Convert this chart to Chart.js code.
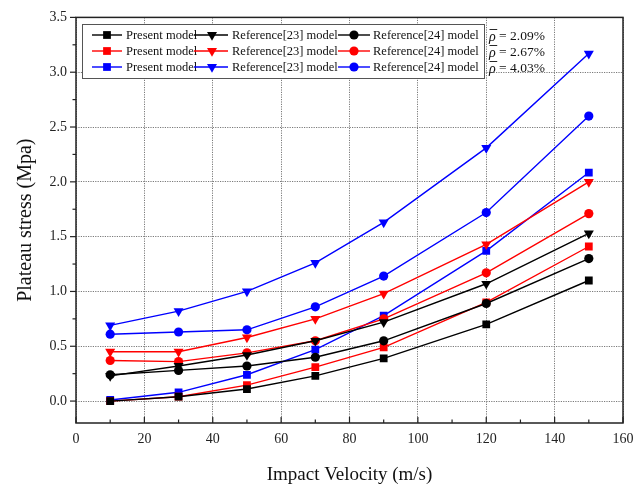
<!DOCTYPE html>
<html>
<head>
<meta charset="utf-8">
<script src="https://cdn.jsdelivr.net/npm/chart.js@4/dist/chart.umd.min.js"></script>
<style>
  html, body { margin: 0; padding: 0; background: #fff; }
  #wrap { width: 644px; height: 486px; }
</style>
</head>
<body>
<div id="wrap"><canvas id="plateauChart" width="644" height="486"></canvas></div>
<script>
// ---------------------------------------------------------
// DATA
// ---------------------------------------------------------
const velocities = [10, 30, 50, 70, 90, 120, 150];

// relative density 2.09%
const present209 = [0.00, 0.04, 0.11, 0.23, 0.39, 0.70, 1.10];
const ref23_209  = [0.23, 0.32, 0.42, 0.55, 0.72, 1.07, 1.53];
const ref24_209  = [0.24, 0.28, 0.32, 0.40, 0.55, 0.89, 1.30];

// relative density 2.67%
const present267 = [0.00, 0.04, 0.145, 0.31, 0.49, 0.90, 1.41];
const ref23_267  = [0.45, 0.45, 0.58, 0.75, 0.98, 1.43, 2.00];
const ref24_267  = [0.37, 0.36, 0.44, 0.55, 0.75, 1.17, 1.71];

// relative density 4.03%
const present403 = [0.01, 0.08, 0.24, 0.47, 0.78, 1.37, 2.085];
const ref23_403  = [0.69, 0.82, 1.00, 1.26, 1.63, 2.31, 3.17];
const ref24_403  = [0.61, 0.63, 0.65, 0.86, 1.14, 1.72, 2.60];

const densityLabels = ['2.09%', '2.67%', '4.03%'];
const modelNames = ['Present model', 'Reference[23] model', 'Reference[24] model'];

const xTicks = [0, 20, 40, 60, 80, 100, 120, 140, 160];
const yTicks = [0.0, 0.5, 1.0, 1.5, 2.0, 2.5, 3.0, 3.5];

const FONT = '"Liberation Serif", "Times New Roman", serif';

// ---------------------------------------------------------
// BUILD DATASETS
// ---------------------------------------------------------
const groups = [
    { color: '#000000', series: [present209, ref23_209, ref24_209] },
    { color: '#ff0000', series: [present267, ref23_267, ref24_267] },
    { color: '#0000ff', series: [present403, ref23_403, ref24_403] }
];
const styles = [
    { pointStyle: 'rect', radius: 5.5, rotation: 0 },
    { pointStyle: 'triangle', radius: 5.8, rotation: 180 },
    { pointStyle: 'circle', radius: 4.6, rotation: 0 }
];

const datasets = [];
groups.forEach(g => {
    g.series.forEach((vals, i) => {
        datasets.push({
            label: modelNames[i],
            data: vals.map((v, k) => ({ x: velocities[k], y: v })),
            borderColor: g.color,
            backgroundColor: g.color,
            borderWidth: 1.4,
            pointStyle: styles[i].pointStyle,
            pointRadius: styles[i].radius,
            pointRotation: styles[i].rotation,
            pointBorderWidth: 0,
            tension: 0
        });
    });
});

// ---------------------------------------------------------
// PLUGIN: frame, minor/major ticks, custom 3x3 legend
// ---------------------------------------------------------
const framePlugin = {
    id: 'frame',
    afterDatasetsDraw(chart) {
        const { ctx, chartArea: a, scales } = chart;
        ctx.save();
        ctx.strokeStyle = '#222';
        ctx.lineWidth = 1.5;
        ctx.strokeRect(a.left, a.top, a.right - a.left, a.bottom - a.top);

        ctx.lineWidth = 1.2;
        // x ticks point inward
        for (let v = 0; v <= 160; v += 10) {
            const px = scales.x.getPixelForValue(v);
            const len = v % 20 === 0 ? 6 : 3.5;
            ctx.beginPath();
            ctx.moveTo(px, a.bottom);
            ctx.lineTo(px, a.bottom - len);
            ctx.stroke();
        }
        // y ticks point outward
        for (let v = 0; v <= 3.5001; v += 0.25) {
            const py = scales.y.getPixelForValue(v);
            const major = Math.abs(v * 2 - Math.round(v * 2)) < 1e-6;
            const len = major ? 6 : 3.5;
            ctx.beginPath();
            ctx.moveTo(a.left, py);
            ctx.lineTo(a.left - len, py);
            ctx.stroke();
        }
        ctx.restore();
    },
    afterDraw(chart) {
        const { ctx } = chart;
        const ds = chart.data.datasets;
        ctx.save();

        // legend box
        const bx = 82, by = 24, bw = 402, bh = 54;
        ctx.fillStyle = '#fff';
        ctx.fillRect(bx, by, bw, bh);
        ctx.strokeStyle = '#555';
        ctx.lineWidth = 1;
        ctx.strokeRect(bx + 0.5, by + 0.5, bw, bh);

        const rowY = [35, 51, 67];
        const cols = [
            { l0: 92, l1: 122, m: 107, t: 126 },
            { l0: 194, l1: 228, m: 212, t: 232 },
            { l0: 338, l1: 370, m: 354, t: 373 }
        ];
        ctx.textBaseline = 'middle';
        for (let r = 0; r < 3; r++) {
            for (let c = 0; c < 3; c++) {
                const d = ds[r * 3 + c];
                const col = cols[c];
                const y = rowY[r];
                ctx.strokeStyle = d.borderColor;
                ctx.lineWidth = 1.4;
                ctx.beginPath();
                ctx.moveTo(col.l0, y);
                ctx.lineTo(col.l1, y);
                ctx.stroke();
                ctx.fillStyle = d.backgroundColor;
                Chart.helpers.drawPoint(ctx, {
                    pointStyle: d.pointStyle,
                    radius: d.pointRadius,
                    rotation: d.pointRotation,
                    borderWidth: 0
                }, col.m, y);
                ctx.fillStyle = '#111';
                ctx.font = '12.5px ' + FONT;
                ctx.fillText(d.label, col.t, y + 1);
            }
            // density label, rho with an overbar
            const x0 = 489;
            ctx.fillStyle = '#111';
            ctx.font = 'italic 14px ' + FONT;
            ctx.fillText('ρ', x0, rowY[r] + 2);
            const rw = ctx.measureText('ρ').width;
            ctx.strokeStyle = '#111';
            ctx.lineWidth = 0.9;
            ctx.beginPath();
            ctx.moveTo(x0 + 0.5, rowY[r] - 5.5);
            ctx.lineTo(x0 + rw + 1.5, rowY[r] - 5.5);
            ctx.stroke();
            ctx.font = '13.5px ' + FONT;
            ctx.fillText(' = ' + densityLabels[r], x0 + rw, rowY[r] + 1);
        }
        ctx.restore();
    }
};

// ---------------------------------------------------------
// CREATE CHART
// ---------------------------------------------------------
const gridDotted = {
    color: '#7a7a7a',
    lineWidth: 1,
    drawTicks: false
};
const borderDotted = { display: false, dash: [1.2, 1.2] };

new Chart(document.getElementById('plateauChart'), {
    type: 'line',
    data: { datasets: datasets },
    options: {
        responsive: false,
        animation: false,
        layout: { padding: { left: 0, right: 21, top: 17, bottom: 0 } },
        plugins: {
            legend: { display: false },
            tooltip: { enabled: false }
        },
        scales: {
            x: {
                type: 'linear',
                min: 0,
                max: 160,
                afterBuildTicks: s => { s.ticks = xTicks.map(v => ({ value: v })); },
                afterFit: s => { s.height = 63; },
                border: borderDotted,
                grid: gridDotted,
                ticks: {
                    padding: 8,
                    color: '#222',
                    font: { family: FONT, size: 14 },
                    maxRotation: 0
                },
                title: {
                    display: true,
                    text: 'Impact Velocity (m/s)',
                    color: '#111',
                    font: { family: FONT, size: 19 },
                    padding: { top: 4, bottom: 0 }
                }
            },
            y: {
                type: 'linear',
                min: -0.2,
                max: 3.5,
                afterBuildTicks: s => { s.ticks = yTicks.map(v => ({ value: v })); },
                afterFit: s => { s.width = 76; },
                border: borderDotted,
                grid: gridDotted,
                ticks: {
                    padding: 9,
                    color: '#222',
                    font: { family: FONT, size: 14 },
                    callback: v => v.toFixed(1)
                },
                title: {
                    display: true,
                    text: 'Plateau stress (Mpa)',
                    color: '#111',
                    font: { family: FONT, size: 20 },
                    padding: { top: 14, bottom: 0 }
                }
            }
        }
    },
    plugins: [framePlugin]
});
</script>
</body>
</html>
